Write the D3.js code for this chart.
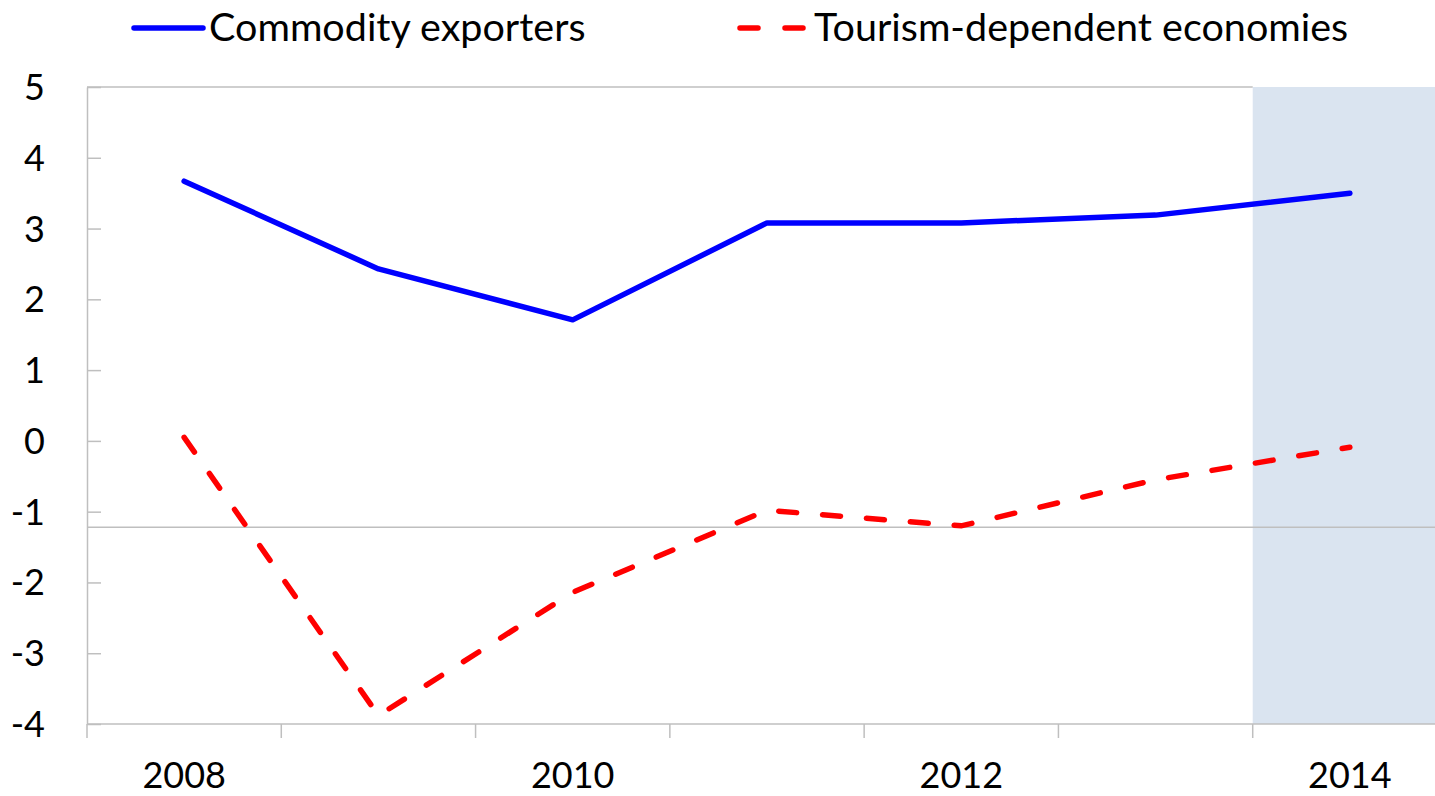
<!DOCTYPE html>
<html><head><meta charset="utf-8">
<script src="https://cdn.jsdelivr.net/npm/d3@7"></script>
<style>body{margin:0;background:#fff}svg{display:block}text{font-family:Lato,"Open Sans",sans-serif;fill:#000}</style>
</head><body><svg id="c" width="1435" height="796"></svg>
<script>
const years = [2008, 2009, 2010, 2011, 2012, 2013, 2014];
const xLabels = ["2008", "", "2010", "", "2012", "", "2014"];
const commodity = [3.67, 2.43, 1.71, 3.08, 3.08, 3.19, 3.50];
const tourism = [0.05, -3.88, -2.14, -0.98, -1.20, -0.55, -0.09];
const yTicks = [-4, -3, -2, -1, 0, 1, 2, 3, 4, 5];
const refLine = -1.22;
const shadedYears = [2014];
const seriesNames = ["Commodity exporters", "Tourism-dependent economies"];

const svg = d3.select("#c");
const mLeft = 87, mTop = 87, mBottom = 724, mRight = 1447;
const x = d3.scaleBand().domain(years).range([mLeft, mRight]).padding(0);
const y = d3.scaleLinear().domain([-4, 5]).range([mBottom, mTop]);
const gray = "#bfbfbf";

svg.append("rect")
  .attr("x", x(shadedYears[0])).attr("y", y(5))
  .attr("width", 1435 - x(shadedYears[0])).attr("height", y(-4) - y(5))
  .attr("fill", "#dae4f0");

svg.append("line").attr("x1", mLeft).attr("x2", x(shadedYears[0])).attr("y1", y(5)).attr("y2", y(5))
  .attr("stroke", gray).attr("stroke-width", 1.5);

svg.append("line").attr("x1", mLeft).attr("x2", 1435).attr("y1", y(refLine)).attr("y2", y(refLine))
  .attr("stroke", gray).attr("stroke-width", 1.5);

const yAxis = svg.append("g").attr("transform", `translate(${mLeft},0)`)
  .call(d3.axisRight(y).tickValues(yTicks).tickSize(14).tickSizeOuter(0).tickFormat(""));
yAxis.select(".domain").attr("stroke", gray).attr("stroke-width", 1.5);
yAxis.selectAll(".tick line").attr("stroke", gray).attr("stroke-width", 1.5);
svg.append("g").selectAll("text").data(yTicks).join("text")
  .attr("x", 45).attr("y", d => y(d)).attr("dy", "0.36em")
  .attr("text-anchor", "end").attr("font-size", 36).text(d => d);

const bounds = years.map(d => x(d)).concat([mRight]);
const xAxis = svg.append("g");
xAxis.append("line").attr("x1", mLeft).attr("x2", 1435).attr("y1", mBottom).attr("y2", mBottom)
  .attr("stroke", gray).attr("stroke-width", 1.5);
xAxis.selectAll(".tk").data(bounds.filter(b => b <= 1435)).join("line").attr("class", "tk")
  .attr("x1", d => d).attr("x2", d => d).attr("y1", mBottom).attr("y2", mBottom + 14)
  .attr("stroke", gray).attr("stroke-width", 1.5);
xAxis.selectAll("text").data(years).join("text")
  .attr("x", d => x(d) + x.bandwidth() / 2).attr("y", 788)
  .attr("text-anchor", "middle").attr("font-size", 36)
  .text((d, i) => xLabels[i]);

const line = d3.line().x((d, i) => x(years[i]) + x.bandwidth() / 2).y(d => y(d));
svg.append("path").datum(commodity).attr("d", line).attr("fill", "none")
  .attr("stroke", "#0000ff").attr("stroke-width", 5.5).attr("stroke-linecap", "round").attr("stroke-linejoin", "round");
svg.append("path").datum(tourism).attr("d", line).attr("fill", "none")
  .attr("stroke", "#ff0000").attr("stroke-width", 5.5).attr("stroke-linecap", "round")
  .attr("stroke-dasharray", "18,26");

const lg = svg.append("g");
lg.append("line").attr("x1", 134).attr("x2", 203).attr("y1", 28).attr("y2", 28)
  .attr("stroke", "#0000ff").attr("stroke-width", 5.5).attr("stroke-linecap", "round");
lg.append("text").attr("x", 209).attr("y", 41).attr("font-size", 39.5).text(seriesNames[0]);
lg.append("line").attr("x1", 740).attr("x2", 803).attr("y1", 28).attr("y2", 28)
  .attr("stroke", "#ff0000").attr("stroke-width", 5.5).attr("stroke-linecap", "round")
  .attr("stroke-dasharray", "18,27");
lg.append("text").attr("x", 814).attr("y", 41).attr("font-size", 39.5).text(seriesNames[1]);
</script></body></html>
